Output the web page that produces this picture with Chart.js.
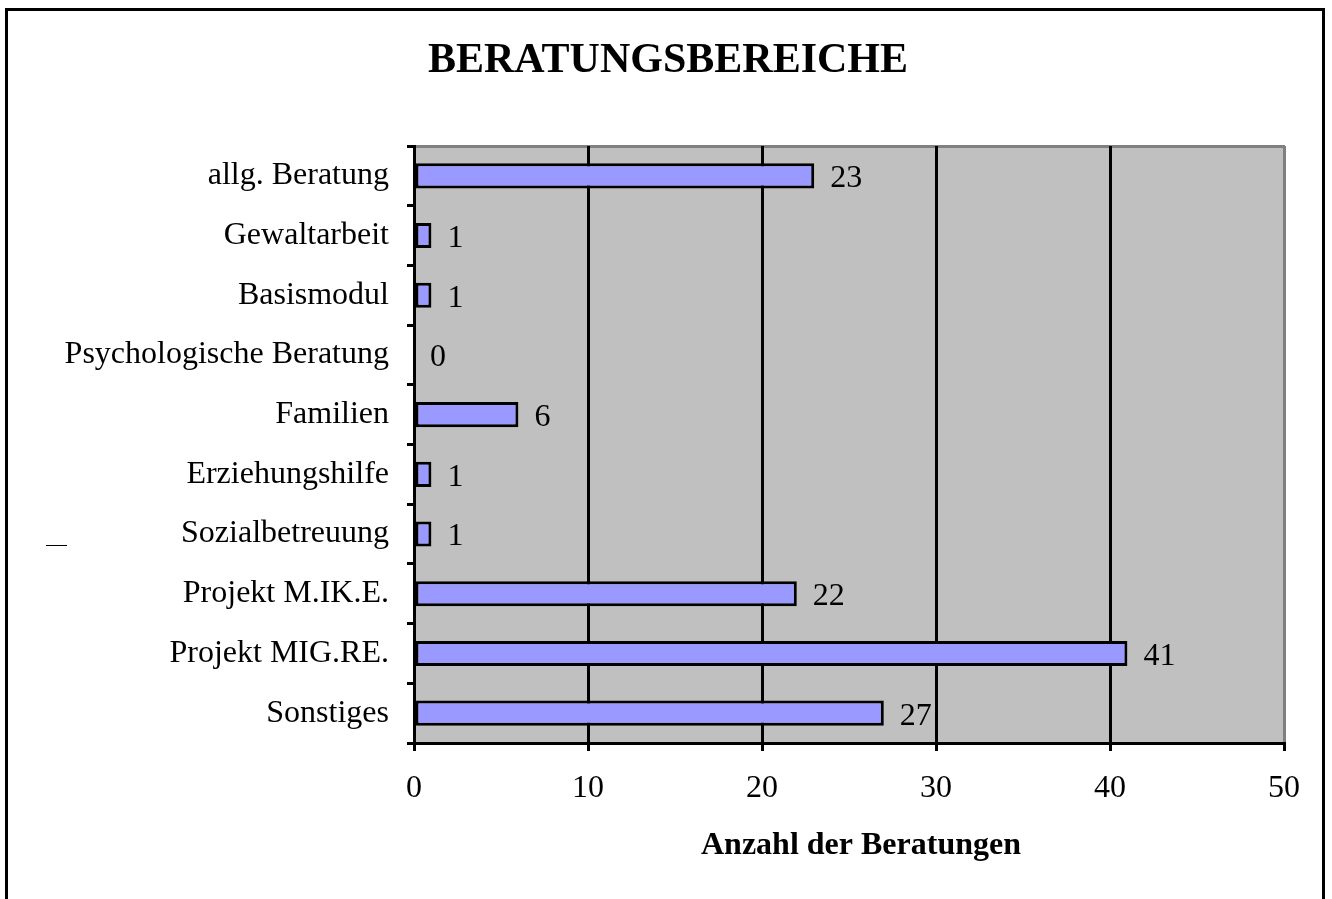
<!DOCTYPE html>
<html>
<head>
<meta charset="utf-8">
<script src="https://cdn.jsdelivr.net/npm/chart.js@4/dist/chart.umd.min.js"></script>
<style>
  html, body { margin: 0; padding: 0; background: #fff; }
  #wrap { width: 1332px; height: 899px; }
</style>
</head>
<body>
<div id="wrap"><canvas id="chart" width="1332" height="899"></canvas></div>
<script>
const categories = ["allg. Beratung", "Gewaltarbeit", "Basismodul", "Psychologische Beratung", "Familien",
  "Erziehungshilfe", "Sozialbetreuung", "Projekt M.IK.E.", "Projekt MIG.RE.", "Sonstiges"];
const counts = [23, 1, 1, 0, 6, 1, 1, 22, 41, 27];
const xTicks = [0, 10, 20, 30, 40, 50];

const serif = "'Liberation Serif', 'Times New Roman', serif";

/* Rahmen, grauer Hintergrund */
const frame = {
  id: "frame",
  beforeDraw(chart) {
    const c = chart.ctx, a = chart.chartArea;
    c.save();
    c.fillStyle = "#fff";
    c.fillRect(0, 0, chart.width, chart.height);
    c.strokeStyle = "#000";
    c.lineWidth = 3;
    c.strokeRect(6.5, 9.5, 1317, 900);
    c.fillStyle = "#c0c0c0";
    c.fillRect(a.left, a.top, a.right - a.left, a.bottom - a.top);
    c.strokeStyle = "#808080";
    c.lineWidth = 3;
    c.beginPath();
    c.moveTo(a.left, a.top + 0.5);
    c.lineTo(a.right + 1, a.top + 0.5);
    c.stroke();
    // kleiner Strich links
    c.strokeStyle = "#000";
    c.lineWidth = 1;
    c.beginPath();
    c.moveTo(46, 545.5);
    c.lineTo(67, 545.5);
    c.stroke();
    c.restore();
  }
};

/* Werte neben den Balken */
const labels = {
  id: "labels",
  afterDatasetsDraw(chart) {
    const c = chart.ctx;
    const meta = chart.getDatasetMeta(0);
    c.save();
    c.fillStyle = "#000";
    c.font = "32px " + serif;
    c.textAlign = "left";
    c.textBaseline = "middle";
    meta.data.forEach((el, i) => {
      c.fillText(String(counts[i]), el.x + 16, el.y + 3);
    });
    c.restore();
  }
};

new Chart(document.getElementById("chart"), {
  type: "bar",
  data: {
    labels: categories,
    datasets: [{
      data: counts,
      backgroundColor: "#9999ff",
      borderColor: "#000",
      borderWidth: 3,
      borderSkipped: false,
      barPercentage: 0.42,
      categoryPercentage: 1
    }]
  },
  options: {
    indexAxis: "y",
    responsive: false,
    animation: false,
    layout: { padding: { left: 52, right: 48, top: 0, bottom: 0 } },
    plugins: {
      legend: { display: false },
      tooltip: { enabled: false },
      title: {
        display: true,
        text: "BERATUNGSBEREICHE",
        color: "#000",
        font: { family: serif, size: 42, weight: "bold", lineHeight: 1 },
        padding: { top: 40, bottom: 64 }
      }
    },
    scales: {
      x: {
        min: 0,
        max: 50,
        afterBuildTicks(scale) { scale.ticks = xTicks.map(v => ({ value: v })); },
        afterFit(scale) { scale.height = 156; },
        grid: {
          color: ctx => (ctx.tick && ctx.tick.value === 50) ? "#808080" : "#000",
          lineWidth: 3,
          tickColor: "#000",
          tickLength: 8
        },
        border: { color: "#000", width: 3 },
        ticks: {
          color: "#000",
          font: { family: serif, size: 32 },
          padding: 18,
          maxRotation: 0
        },
        title: {
          display: true,
          text: "   Anzahl der Beratungen",
          color: "#000",
          font: { family: serif, size: 32, weight: "bold" },
          padding: { top: 0, bottom: 34 }
        }
      },
      y: {
        afterFit(scale) { scale.width = 362; },
        grid: {
          offset: true,
          drawOnChartArea: false,
          color: "#000",
          lineWidth: 3,
          tickLength: 7
        },
        border: { color: "#000", width: 3 },
        ticks: {
          color: "#000",
          font: { family: serif, size: 32 },
          padding: 18
        }
      }
    }
  },
  plugins: [frame, labels]
});
</script>
</body>
</html>
